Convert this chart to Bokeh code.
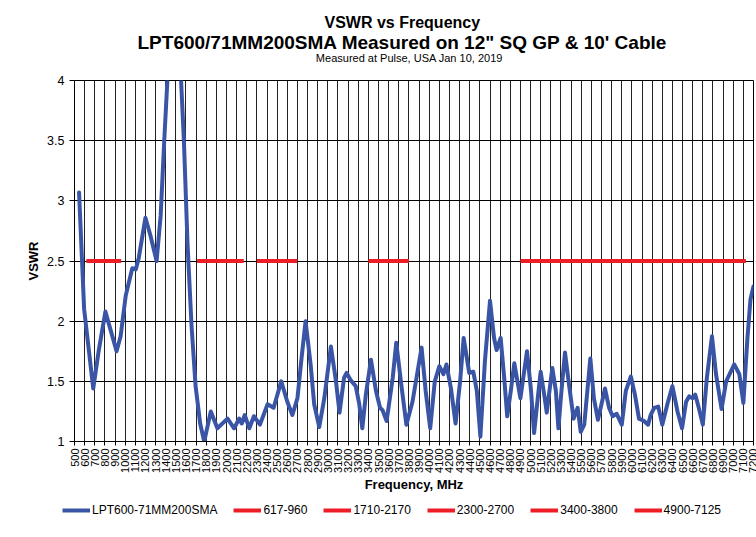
import math
from bokeh.plotting import figure
from bokeh.layouts import column, row
from bokeh.models import Range1d, FixedTicker, Title, Legend, LegendItem, LinearAxis
from bokeh.embed import file_html
from bokeh.resources import INLINE

# ---- data ----
freq = [545, 595, 685, 740, 805, 855, 915, 955, 1005, 1070, 1105, 1135, 1200, 1250,
        1310, 1350, 1385, 1435, 1485, 1535, 1580, 1615, 1655, 1695, 1740, 1780, 1845,
        1910, 2010, 2075, 2125, 2150, 2180, 2225, 2270, 2330, 2405, 2465, 2540, 2600,
        2650, 2700, 2740, 2780, 2830, 2865, 2915, 2965, 3030, 3080, 3115, 3160, 3185,
        3225, 3275, 3310, 3340, 3375, 3425, 3475, 3515, 3540, 3580, 3640, 3675, 3725,
        3775, 3835, 3925, 3965, 4010, 4055, 4100, 4140, 4170, 4215, 4260, 4305, 4340,
        4395, 4435, 4470, 4505, 4550, 4600, 4640, 4665, 4705, 4740, 4770, 4805, 4840,
        4900, 4965, 5005, 5035, 5075, 5100, 5140, 5160, 5215, 5250, 5275, 5305, 5340,
        5380, 5425, 5465, 5495, 5530, 5590, 5625, 5665, 5735, 5775, 5810, 5850, 5900,
        5940, 5990, 6030, 6070, 6120, 6160, 6185, 6220, 6260, 6300, 6350, 6400, 6450,
        6495, 6535, 6565, 6600, 6625, 6660, 6700, 6740, 6790, 6830, 6885, 6930, 7010,
        7060, 7100, 7140, 7170, 7200]
vswr = [3.07, 2.10, 1.44, 1.76, 2.08, 1.93, 1.75, 1.875, 2.21, 2.44, 2.43, 2.53, 2.86, 2.71,
        2.50, 2.875, 3.49, 4.3, 4.6, 4.3, 3.49, 2.65, 1.96, 1.46, 1.15, 1.00, 1.25,
        1.11, 1.19, 1.11, 1.19, 1.15, 1.22, 1.11, 1.21, 1.14, 1.31, 1.28, 1.50, 1.33,
        1.22, 1.36, 1.69, 2.00, 1.64, 1.31, 1.12, 1.36, 1.79, 1.50, 1.24, 1.53, 1.57,
        1.51, 1.46, 1.31, 1.11, 1.39, 1.68, 1.42, 1.28, 1.26, 1.17, 1.53, 1.82, 1.47,
        1.14, 1.33, 1.78, 1.42, 1.11, 1.50, 1.625, 1.56, 1.64, 1.44, 1.15, 1.50, 1.86,
        1.57, 1.58, 1.42, 1.04, 1.67, 2.17, 1.86, 1.76, 1.86, 1.53, 1.21, 1.42, 1.65,
        1.36, 1.75, 1.42, 1.07, 1.39, 1.58, 1.36, 1.24, 1.61, 1.42, 1.11, 1.42, 1.74,
        1.47, 1.19, 1.28, 1.08, 1.14, 1.69, 1.36, 1.18, 1.44, 1.28, 1.21, 1.23, 1.14,
        1.42, 1.54, 1.39, 1.19, 1.17, 1.14, 1.22, 1.28, 1.29, 1.14, 1.31, 1.46, 1.25,
        1.11, 1.33, 1.375, 1.36, 1.39, 1.28, 1.14, 1.53, 1.875, 1.56, 1.27, 1.50, 1.64,
        1.56, 1.32, 1.86, 2.18, 2.29]
series_name = "LPT600-71MM200SMA"

band_names = ["617-960", "1710-2170", "2300-2700", "3400-3800", "4900-7125"]
band_lo = [617, 1710, 2300, 3400, 4900]
band_hi = [960, 2170, 2700, 3800, 7125]
band_level = 2.5

x_ticks = list(range(500, 7201, 100))
y_ticks = [1, 1.5, 2, 2.5, 3, 3.5, 4]
y_labels = ["1", "1.5", "2", "2.5", "3", "3.5", "4"]

title1 = "VSWR vs Frequency"
title2 = "LPT600/71MM200SMA Measured on 12\" SQ GP & 10' Cable"
title3 = "Measured at Pulse,  USA   Jan 10, 2019"

FONT = "Liberation Sans"
BLUE = "#3A55A5"
RED = "#EE1D25"

p = figure(width=756, height=495, output_backend="svg", toolbar_location=None,
           x_range=Range1d(500, 7200), y_range=Range1d(1, 4),
           title_location=None,
           min_border_left=74, min_border_right=3, min_border_top=80, min_border_bottom=54)
p.outline_line_color = "black"
p.outline_line_width = 1
p.background_fill_color = "white"
p.border_fill_color = "white"

# subtitle line as the label of an empty top axis (closest to the plot)
top_axis = LinearAxis(ticker=FixedTicker(ticks=[]), axis_line_color=None,
                      major_tick_line_color=None, minor_tick_line_color=None,
                      major_tick_out=0, major_tick_in=0, major_label_standoff=0,
                      axis_label=title3, axis_label_text_font=FONT,
                      axis_label_text_font_size="11px", axis_label_text_font_style="normal",
                      axis_label_text_color="black", axis_label_standoff=17)
p.add_layout(top_axis, "above")
p.add_layout(Title(text=title2, text_font=FONT, text_font_size="19px", text_font_style="bold",
                   align="left", offset=63, standoff=-8, text_color="black"), "above")
p.add_layout(Title(text=title1, text_font=FONT, text_font_size="16px", text_font_style="bold",
                   align="left", offset=250, standoff=5, text_color="black"), "above")

# bottom axis
xa = p.below[0]
xa.ticker = FixedTicker(ticks=x_ticks)
xa.major_label_orientation = math.pi / 2
xa.major_label_text_font = FONT
xa.major_label_text_font_size = "11px"
xa.major_label_text_color = "black"
xa.major_tick_out = 4
xa.major_tick_in = 0
xa.minor_tick_line_color = None
xa.axis_line_color = "black"
xa.major_tick_line_color = "black"
xa.major_label_standoff = 3
xa.axis_label = "Frequency, MHz"
xa.axis_label_text_font = FONT
xa.axis_label_text_font_size = "13px"
xa.axis_label_text_font_style = "bold"
xa.axis_label_text_color = "black"
xa.axis_label_standoff = 1

ya = p.left[0]
ya.ticker = FixedTicker(ticks=y_ticks)
ya.major_label_overrides = {t: l for t, l in zip(y_ticks, y_labels)}
ya.major_label_text_font = FONT
ya.major_label_text_font_size = "12.5px"
ya.major_label_text_color = "black"
ya.major_tick_out = 5
ya.major_tick_in = 0
ya.minor_tick_line_color = None
ya.axis_line_color = "black"
ya.major_tick_line_color = "black"
ya.major_label_standoff = 5
ya.axis_label = "VSWR"
ya.axis_label_text_font = FONT
ya.axis_label_text_font_size = "13px"
ya.axis_label_text_font_style = "bold"
ya.axis_label_text_color = "black"
ya.axis_label_standoff = 3

p.xgrid.ticker = FixedTicker(ticks=x_ticks)
p.xgrid.grid_line_color = "#222222"
p.xgrid.grid_line_width = 1
p.ygrid.ticker = FixedTicker(ticks=y_ticks)
p.ygrid.grid_line_color = "black"
p.ygrid.grid_line_width = 1

p.line(freq, vswr, line_color=BLUE, line_width=4, line_join="round", line_cap="round")
for lo, hi in zip(band_lo, band_hi):
    p.line([lo, hi], [band_level, band_level], line_color=RED, line_width=4)

# legend strip (separate figure; its series lie outside its tiny view range)
pl = figure(width=756, height=42, output_backend="svg", toolbar_location=None,
            x_range=Range1d(0, 1), y_range=Range1d(0, 1), title_location=None,
            min_border=0, x_axis_type=None, y_axis_type=None)
pl.outline_line_color = None
pl.grid.visible = False
items = []
rb = pl.line(freq, vswr, line_color=BLUE, line_width=4)
items.append(LegendItem(label=series_name, renderers=[rb]))
for name, lo, hi in zip(band_names, band_lo, band_hi):
    rr = pl.line([lo, hi], [band_level, band_level], line_color=RED, line_width=4)
    items.append(LegendItem(label=name, renderers=[rr]))
legend = Legend(items=items, orientation="horizontal", location=(62, 20),
                border_line_color=None, background_fill_alpha=0,
                label_text_font=FONT, label_text_font_size="12px", label_text_color="black",
                glyph_width=28, glyph_height=14, label_standoff=2, spacing=16, padding=0, margin=0)
pl.add_layout(legend, "center")

layout = column(p, row(pl, spacing=0), spacing=0)
open("out.html", "w").write(file_html(layout, INLINE))
